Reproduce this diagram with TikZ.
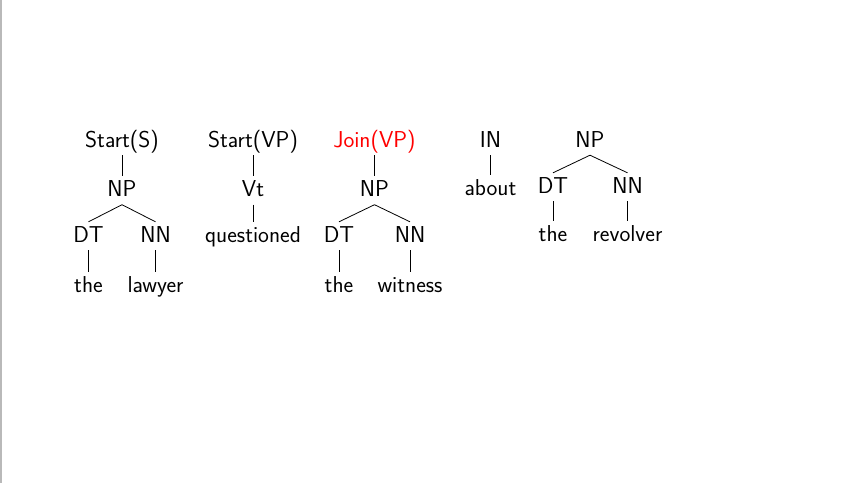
\documentclass[tikz,border=0pt]{standalone}
\tikzset{
  cat/.style={font=\fontsize{23}{27}\selectfont\sffamily,anchor=base,inner sep=3pt,text height=17pt,text depth=5pt},
  branch/.style={line width=0.8pt},
}
\begin{document}
\begin{tikzpicture}[x=1pt,y=-1pt]
\useasboundingbox (0,0) rectangle (862,483);
\draw[line width=2pt,gray!55] (1,0) -- (1,483);

% the lawyer
\node[cat] (SS) at (122,147) {Start(S)};
\node[cat] (NPA) at (122,196.5) {NP};
\node[cat] (DTA) at (88.5,242) {DT};
\node[cat] (NNA) at (155.5,242) {NN};
\node[cat] (theA) at (88.5,292) {the};
\node[cat] (lawyer) at (155.5,292) {lawyer};
\draw[branch] (SS.south) -- (NPA.north);
\draw[branch] (NPA.south) -- (DTA.north);
\draw[branch] (NPA.south) -- (NNA.north);
\draw[branch] (DTA.south) -- (theA.north);
\draw[branch] (NNA.south) -- (lawyer.north);

% questioned
\node[cat] (SVP) at (253,147) {Start(VP)};
\node[cat] (Vt) at (253,196.5) {Vt};
\node[cat] (quest) at (253,242) {questioned};
\draw[branch] (SVP.south) -- (Vt.north);
\draw[branch] (Vt.south) -- (quest.north);

% the witness
\node[cat,text=red] (JVP) at (374.5,147) {Join(VP)};
\node[cat] (NPB) at (374.5,196.5) {NP};
\node[cat] (DTB) at (339,242) {DT};
\node[cat] (NNB) at (410,242) {NN};
\node[cat] (theB) at (339,292) {the};
\node[cat] (witness) at (410,292) {witness};
\draw[branch] (JVP.south) -- (NPB.north);
\draw[branch] (NPB.south) -- (DTB.north);
\draw[branch] (NPB.south) -- (NNB.north);
\draw[branch] (DTB.south) -- (theB.north);
\draw[branch] (NNB.south) -- (witness.north);

% about
\node[cat] (IN) at (490.5,147) {IN};
\node[cat] (about) at (490.5,195.5) {about};
\draw[branch] (IN.south) -- (about.north);

% the revolver
\node[cat] (NPC) at (590,147) {NP};
\node[cat] (DTC) at (553,193) {DT};
\node[cat] (NNC) at (627.5,193) {NN};
\node[cat] (theC) at (553,241) {the};
\node[cat] (revolver) at (627.5,241) {revolver};
\draw[branch] (NPC.south) -- (DTC.north);
\draw[branch] (NPC.south) -- (NNC.north);
\draw[branch] (DTC.south) -- (theC.north);
\draw[branch] (NNC.south) -- (revolver.north);
\end{tikzpicture}
\end{document}
